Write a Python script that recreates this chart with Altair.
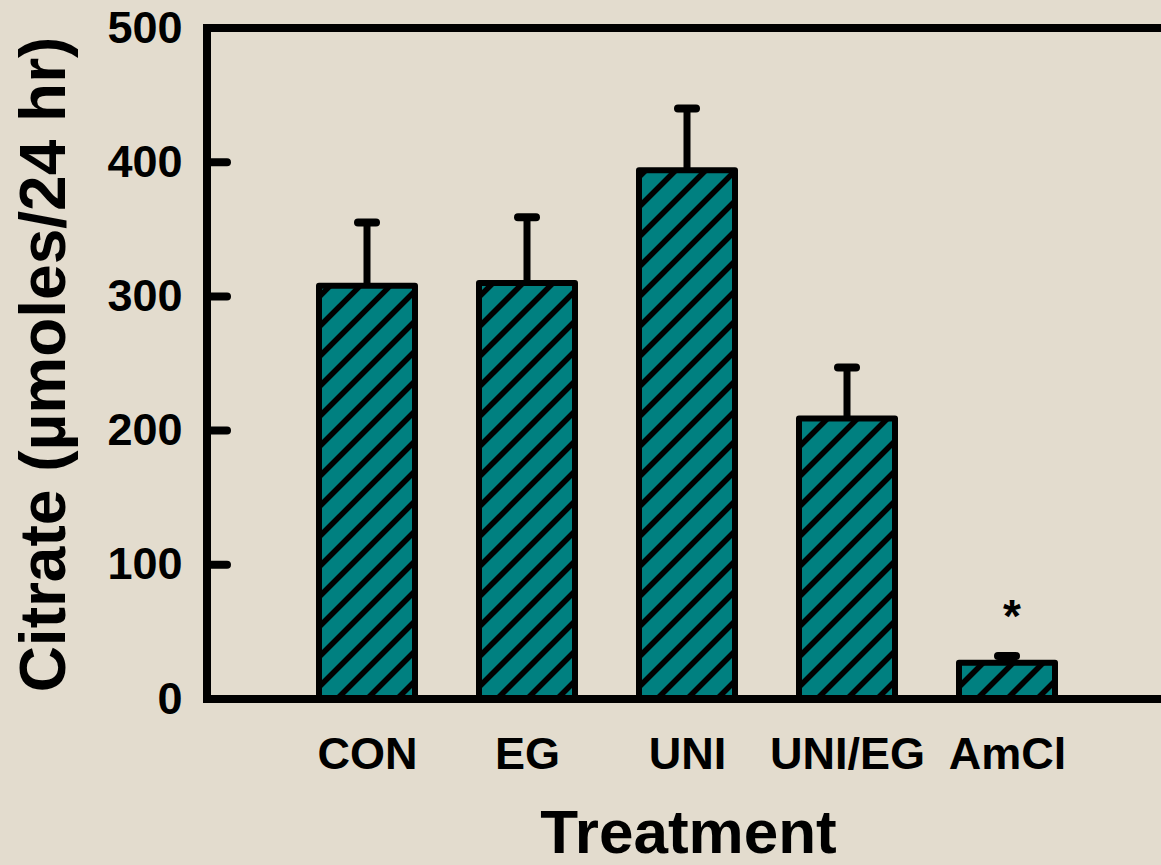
import json
import math

import altair as alt
import pandas as pd

# ---- data ---------------------------------------------------------------
treatments = ["CON", "EG", "UNI", "UNI/EG", "AmCl"]
citrate_mean = [308, 310, 394, 209, 27]       # µmoles / 24 hr
citrate_upper = [355, 359, 440, 247, 32]      # mean + SEM
significant = [False, False, False, False, True]
y_ticks = [0, 100, 200, 300, 400, 500]

# ---- layout / style constants -------------------------------------------
PLOT_W = 954
PLOT_H = 671
SLOT_PX = 160              # horizontal pixels per category slot
Y_MAX = 500
PX_PER_Y = PLOT_H / Y_MAX
BAR_PX = 96
HATCH_GAP = 30             # horizontal spacing of the diagonal hatch
HATCH_PHASE = 18
FONT = "Liberation Sans"
TEAL = "#008080"
PAPER = "#E3DCCE"

bars = pd.DataFrame({
    "treatment": treatments,
    "pos": list(range(1, len(treatments) + 1)),
    "mean": citrate_mean,
    "upper": citrate_upper,
    "sig": significant,
})

# diagonal "/" hatch segments, clipped to each bar's rectangle
hatch_rows = []
for pos, mean in zip(bars["pos"], bars["mean"]):
    left = pos * SLOT_PX - BAR_PX / 2
    w, h = BAR_PX, mean * PX_PER_Y
    d = HATCH_PHASE - HATCH_GAP * math.ceil((h + HATCH_PHASE) / HATCH_GAP)
    while d < w:
        u0, u1 = max(0.0, d), min(w, h + d)
        if u1 > u0:
            hatch_rows.append({
                "x": (left + u0) / SLOT_PX, "y": (u0 - d) / PX_PER_Y,
                "x2": (left + u1) / SLOT_PX, "y2": (u1 - d) / PX_PER_Y,
            })
        d += HATCH_GAP
hatch = pd.DataFrame(hatch_rows)
ticks = pd.DataFrame({"tick": y_ticks[1:]})

x_max = PLOT_W / SLOT_PX
xs = alt.Scale(domain=[0, x_max], nice=False, zero=False, padding=0)
ys = alt.Scale(domain=[0, Y_MAX], nice=False, padding=0)

label_expr = json.dumps(treatments) + "[datum.value - 1]"

x_axis = alt.Axis(
    values=bars["pos"].tolist(), labelExpr=label_expr,
    ticks=False, domain=False, grid=False,
    labelFont=FONT, labelFontSize=45, labelFontWeight="bold", labelColor="black",
    labelBaseline="alphabetic", labelPadding=69, labelOverlap=False, labelFlush=False,
    title="Treatment", titleFont=FONT, titleFontSize=62, titleFontWeight="bold",
    titleColor="black", titleBaseline="alphabetic", titleY=153, titleX=481,
)
y_axis = alt.Axis(
    values=y_ticks, ticks=False, domain=False, grid=False,
    labelFont=FONT, labelFontSize=45, labelFontWeight="bold", labelColor="black",
    labelPadding=25, labelBaseline="middle",
    title="Citrate (µmoles/24 hr)", titleFont=FONT, titleFontSize=64,
    titleFontWeight="bold", titleColor="black", titleAngle=270,
    titleBaseline="alphabetic", titleAlign="center", titleX=-143, titleY=336,
)


def X(field):
    return alt.X(field, scale=xs, axis=x_axis)


def Y(field):
    return alt.Y(field, scale=ys, axis=y_axis)


fill = alt.Chart(bars).mark_bar(size=BAR_PX, orient="vertical", color=TEAL).encode(
    x=X("pos:Q"), y=Y("mean:Q"),
)

hatch_lines = alt.Chart(hatch).mark_rule(color="black", strokeWidth=5.5, strokeCap="butt").encode(
    x=X("x:Q"), x2="x2:Q", y=Y("y:Q"), y2="y2:Q",
)

outline = alt.Chart(bars).mark_bar(
    size=BAR_PX, orient="vertical", fillOpacity=0, stroke="black",
    strokeWidth=6, strokeJoin="round",
).encode(x=X("pos:Q"), y=Y("mean:Q"))

stems = alt.Chart(bars).mark_rule(color="black", strokeWidth=7).encode(
    x=X("pos:Q"), y=Y("mean:Q"), y2="upper:Q",
)

caps = alt.Chart(bars).mark_rule(
    color="black", strokeWidth=8, strokeCap="round", xOffset=-9, x2Offset=9,
).encode(x=X("pos:Q"), x2="pos:Q", y=Y("upper:Q"))

stars = alt.Chart(bars).transform_filter("datum.sig").mark_text(
    text="*", font=FONT, fontSize=46, fontWeight="bold", color="black",
    baseline="alphabetic", align="center", dx=5, dy=-24,
).encode(x=X("pos:Q"), y=Y("upper:Q"))

# frame: left axis, bottom axis and top border
frame_style = dict(color="black", strokeWidth=8, strokeCap="square")
left_line = alt.Chart(bars).mark_rule(**frame_style).encode(
    x=alt.datum(0, scale=xs, axis=x_axis),
    y=alt.datum(0, scale=ys, axis=y_axis), y2=alt.datum(Y_MAX),
)
bottom_line = alt.Chart(bars).mark_rule(**frame_style).encode(
    x=alt.datum(0, scale=xs, axis=x_axis), x2=alt.datum(x_max),
    y=alt.datum(0, scale=ys, axis=y_axis),
)
top_line = alt.Chart(bars).mark_rule(**frame_style).encode(
    x=alt.datum(0, scale=xs, axis=x_axis), x2=alt.datum(x_max),
    y=alt.datum(Y_MAX, scale=ys, axis=y_axis),
)

# inward-pointing ticks on the y axis
inner_ticks = alt.Chart(ticks).mark_rule(color="black", strokeWidth=8, strokeCap="round").encode(
    x=alt.value(0), x2=alt.value(20), y=Y("tick:Q"),
)

chart = alt.layer(
    fill, hatch_lines, outline, stems, caps, stars,
    left_line, bottom_line, top_line, inner_ticks,
).properties(
    width=PLOT_W, height=PLOT_H, background=PAPER,
    padding={"left": 207, "top": 28, "right": 0, "bottom": 166},
    autosize=alt.AutoSizeParams(type="none"),
).configure_view(stroke=None)

chart.save("out.html", embed_options={"renderer": "svg", "actions": False})
